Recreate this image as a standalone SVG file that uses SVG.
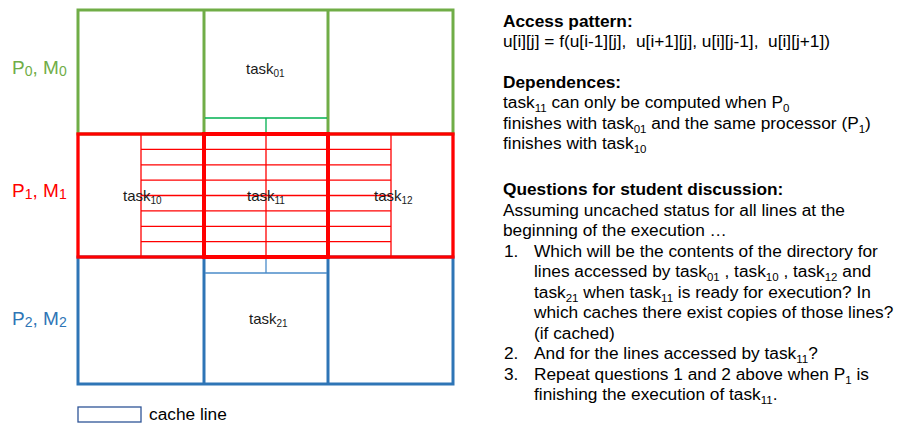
<svg xmlns="http://www.w3.org/2000/svg" width="901" height="424" viewBox="0 0 901 424">
<style>
text{font-family:"Liberation Sans",Arial,sans-serif;fill:#000}
.t{font-size:17.3px}
.b{font-size:17.3px;font-weight:bold}
.s{font-size:11.5px}
.tk{font-size:15px;fill:#1a1a1a}
.tks{font-size:10px}
.lab{font-size:19px}
.labs{font-size:14px}
.cl{fill:none;stroke-width:1.3}
</style>
<rect width="901" height="424" fill="#fff"/>
<g id="grid">
<g id="row0" fill="none" stroke="#70ad47" stroke-width="3">
<rect x="78" y="10" width="375" height="124"/>
<line x1="204" y1="10" x2="204" y2="134"/>
<line x1="328" y1="10" x2="328" y2="134"/>
</g>
<g id="row2" fill="none" stroke="#2e75b6" stroke-width="3">
<rect x="78" y="257" width="375" height="127"/>
<line x1="204" y1="257" x2="204" y2="384"/>
<line x1="328" y1="257" x2="328" y2="384"/>
</g>
</g>
<g id="cachelines">
<g stroke="#00b050" class="cl">
<line x1="205" y1="118" x2="327" y2="118"/>
<line x1="266" y1="118" x2="266" y2="134"/>
</g>
<g stroke="#4a8bc9" class="cl">
<line x1="205" y1="273" x2="327" y2="273"/>
<line x1="266" y1="257" x2="266" y2="273"/>
</g>
<g stroke="#ff0000" class="cl">
<line x1="141" y1="149.4" x2="391" y2="149.4"/>
<line x1="141" y1="164.8" x2="391" y2="164.8"/>
<line x1="141" y1="180.1" x2="391" y2="180.1"/>
<line x1="141" y1="195.5" x2="391" y2="195.5"/>
<line x1="141" y1="210.9" x2="391" y2="210.9"/>
<line x1="141" y1="226.3" x2="391" y2="226.3"/>
<line x1="141" y1="241.6" x2="391" y2="241.6"/>
<line x1="141" y1="134" x2="141" y2="257"/>
<line x1="266" y1="134" x2="266" y2="257"/>
<line x1="391" y1="134" x2="391" y2="257"/>
</g>
</g>
<g id="row1" fill="none" stroke="#ff0000">
<rect x="78" y="134" width="375" height="123" stroke-width="3.3"/>
<rect id="task11box" x="204" y="134" width="124" height="123" stroke-width="4"/>
</g>
<g id="tasks">
<text class="tk" x="246" y="74">task<tspan class="tks" dy="3">01</tspan></text>
<text class="tk" x="123" y="201">task<tspan class="tks" dy="3">10</tspan></text>
<text class="tk" x="247" y="201">task<tspan class="tks" dy="3">11</tspan></text>
<text class="tk" x="374" y="201">task<tspan class="tks" dy="3">12</tspan></text>
<text class="tk" x="249" y="324">task<tspan class="tks" dy="3">21</tspan></text>
</g>
<g id="labels">
<text class="lab" x="12" y="74" style="fill:#70ad47">P<tspan class="labs" dy="2">0</tspan><tspan dy="-2">, M</tspan><tspan class="labs" dy="2">0</tspan></text>
<text class="lab" x="12" y="197" style="fill:#ff0000">P<tspan class="labs" dy="2">1</tspan><tspan dy="-2">, M</tspan><tspan class="labs" dy="2">1</tspan></text>
<text class="lab" x="12" y="325" style="fill:#2e75b6">P<tspan class="labs" dy="2">2</tspan><tspan dy="-2">, M</tspan><tspan class="labs" dy="2">2</tspan></text>
</g>
<g id="legend">
<rect x="78" y="407" width="63" height="15" fill="#fff" stroke="#2f5597" stroke-width="1.3"/>
<text class="t" x="149" y="420">cache line</text>
</g>
<g id="notes">
<text class="b" x="503" y="26.5">Access pattern:</text>
<text class="t" x="503" y="47" xml:space="preserve">u[i][j] = f(u[i-1][j],  u[i+1][j], u[i][j-1],  u[i][j+1])</text>
<text class="b" x="503" y="87.5">Dependences:</text>
<text class="t" x="503" y="108">task<tspan class="s" dy="4">11</tspan><tspan dy="-4"> can only be computed when P</tspan><tspan class="s" dy="4">0</tspan></text>
<text class="t" x="503" y="128.5">finishes with task<tspan class="s" dy="4">01</tspan><tspan dy="-4"> and the same processor (P</tspan><tspan class="s" dy="4">1</tspan><tspan dy="-4">)</tspan></text>
<text class="t" x="503" y="149">finishes with task<tspan class="s" dy="4">10</tspan></text>
<text class="b" x="503" y="195">Questions for student discussion:</text>
<text class="t" x="503" y="215.5">Assuming uncached status for all lines at the</text>
<text class="t" x="503" y="236">beginning of the execution …</text>
<text class="t" x="504" y="256.5">1.</text>
<text class="t" x="534" y="256.5">Which will be the contents of the directory for</text>
<text class="t" x="534" y="277">lines accessed by task<tspan class="s" dy="4">01</tspan><tspan dy="-4"> , task</tspan><tspan class="s" dy="4">10</tspan><tspan dy="-4"> , task</tspan><tspan class="s" dy="4">12</tspan><tspan dy="-4"> and</tspan></text>
<text class="t" x="534" y="297.5">task<tspan class="s" dy="4">21</tspan><tspan dy="-4"> when task</tspan><tspan class="s" dy="4">11</tspan><tspan dy="-4"> is ready for execution? In</tspan></text>
<text class="t" x="534" y="318">which caches there exist copies of those lines?</text>
<text class="t" x="534" y="338.5">(if cached)</text>
<text class="t" x="504" y="359">2.</text>
<text class="t" x="534" y="359">And for the lines accessed by task<tspan class="s" dy="4">11</tspan><tspan dy="-4">?</tspan></text>
<text class="t" x="504" y="379.5">3.</text>
<text class="t" x="534" y="379.5">Repeat questions 1 and 2 above when P<tspan class="s" dy="4">1</tspan><tspan dy="-4"> is</tspan></text>
<text class="t" x="534" y="400">finishing the execution of task<tspan class="s" dy="4">11</tspan><tspan dy="-4">.</tspan></text>
</g>
</svg>
